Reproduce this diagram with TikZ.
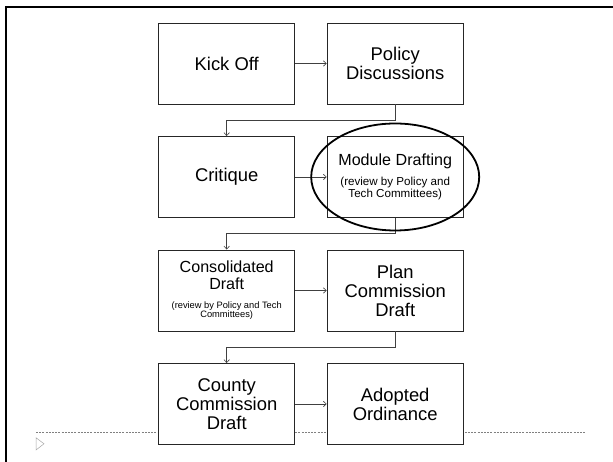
\documentclass[tikz,border=0pt]{standalone}
\usepackage{fontspec}
\setmainfont{Liberation Sans}
\usetikzlibrary{arrows.meta,positioning,calc}

\tikzset{
  stage/.style={draw=black!85, line width=0.9pt, fill=white, minimum width=136pt,
    minimum height=81pt, inner sep=2pt, align=center,
    font=\fontsize{18.4}{19}\selectfont},
  flow/.style={draw=black!75, line width=0.6pt,
    -{Straight Barb[length=3pt,width=5.5pt]}},
}

\begin{document}
\begin{tikzpicture}[x=1pt,y=1pt]
\useasboundingbox (0,0) rectangle (613,462);
% slide frame
\draw[line width=2pt] (6,0) -- (6,455) -- (613,455);

% guide line and marker
\draw[gray, dash pattern=on 2pt off 1.2pt, line width=0.5pt] (36,29.7) -- (586,29.7);
\draw[gray!70, line width=0.5pt] (36,24.3) -- (44,18.2) -- (36,12) -- cycle;

% stages
\node[stage] (ko) at (226.7,398.5) {Kick Off};
\node[stage] (pd) at (395.2,398.5) {Policy\\Discussions};
\node[stage] (cr) at (226.7,285) {Critique};
\node[stage, font=\fontsize{16.1}{17}\selectfont] (md) at (395.2,285)
  {Module Drafting\\[3pt]{\fontsize{11.6}{11}\selectfont\begin{tabular}[t]{@{}c@{}}(review by Policy and\\Tech Committees)\end{tabular}}};
\node[stage, font=\fontsize{16.1}{17.4}\selectfont] (cd) at (226.7,171.5)
  {Consolidated\\Draft\\[1pt]{\fontsize{9.3}{9.3}\selectfont\begin{tabular}[t]{@{}c@{}}(review by Policy and Tech\\Committees)\end{tabular}}};
\node[stage] (pc) at (395.2,171.5) {Plan\\Commission\\Draft};
\node[stage] (cc) at (226.7,58) {County\\Commission\\Draft};
\node[stage] (ao) at (395.2,58) {Adopted\\Ordinance};

% connectors
\draw[flow] (ko) -- (pd);
\draw[flow] (cr) -- (md);
\draw[flow] (cd) -- (pc);
\draw[flow] (cc) -- (ao);
\draw[flow] (pd.south) |- ($(pd.south)!.5!(cr.north)$) -| (cr.north);
\draw[flow] (md.south) |- ($(md.south)!.5!(cd.north)$) -| (cd.north);
\draw[flow] (pc.south) |- ($(pc.south)!.5!(cc.north)$) -| (cc.north);

% highlight
\draw[line width=1.8pt] (md.center) ellipse [x radius=84pt, y radius=53.5pt];
\end{tikzpicture}
\end{document}
